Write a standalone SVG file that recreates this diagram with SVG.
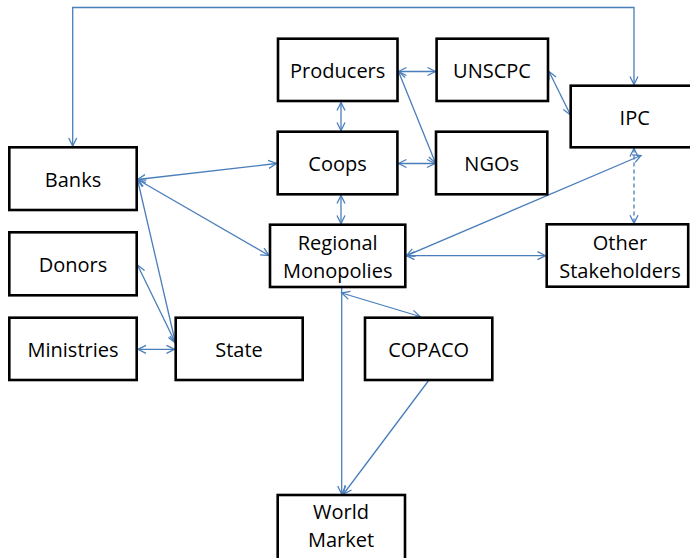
<svg xmlns="http://www.w3.org/2000/svg" width="690" height="558" viewBox="0 0 690 558">
<style>
.box{fill:#fff;stroke:#000;stroke-width:2.6}
.lbl{font-family:"Open Sans","Liberation Sans",sans-serif;font-size:20px;fill:#000;text-anchor:middle}
.ln{fill:none;stroke:#4A7EBB;stroke-width:1.3}
.both{marker-start:url(#ah);marker-end:url(#ah)}
.end{marker-end:url(#ah)}
.dash{stroke-dasharray:4 3}
</style>
<defs>
<marker id="ah" viewBox="-10 -6 12 12" refX="0" refY="0" markerWidth="12" markerHeight="12" markerUnits="userSpaceOnUse" orient="auto-start-reverse">
<path d="M-8,-4 L0,0 L-8,4" fill="none" stroke="#4A7EBB" stroke-width="1.3"/>
</marker>
</defs>
<rect width="690" height="558" fill="#fff"/>
<g id="connectors">
<path class="ln both" d="M72.7,146 V7.5 H634 V84.5"/>
<line class="ln both" x1="398.5" y1="71.5" x2="435.5" y2="71.5"/>
<line class="ln both" x1="341" y1="102.5" x2="341" y2="130.5"/>
<line class="ln both" x1="398.5" y1="71.5" x2="435.5" y2="163"/>
<line class="ln both" x1="398.5" y1="163.5" x2="435" y2="163.5"/>
<line class="ln both" x1="549" y1="71.5" x2="570.5" y2="115"/>
<line class="ln both" x1="137.5" y1="179.5" x2="276.5" y2="163.5"/>
<line class="ln both" x1="137.5" y1="179.5" x2="269" y2="255.5"/>
<line class="ln both" x1="137.5" y1="179.5" x2="175.5" y2="343"/>
<line class="ln both" x1="137.5" y1="265" x2="175.5" y2="343"/>
<line class="ln both" x1="138" y1="349.3" x2="174.5" y2="349.3"/>
<line class="ln both" x1="341" y1="195.5" x2="341" y2="223.5"/>
<line class="ln both" x1="641" y1="155.5" x2="406.5" y2="255.7"/>
<line class="ln both dash" x1="634" y1="148.5" x2="634" y2="223.3"/>
<line class="ln both" x1="406.5" y1="255.7" x2="545.5" y2="255.7"/>
<line class="ln both" x1="341.7" y1="293" x2="420" y2="316.5"/>
<line class="ln end" x1="341.7" y1="288" x2="341.7" y2="494"/>
<line class="ln end" x1="428.3" y1="381" x2="343.5" y2="494"/>
</g>
<g id="producers"><rect class="box" x="278" y="38.7" width="119.5" height="62.3"/><text class="lbl" x="337.7" y="78">Producers</text></g>
<g id="unscpc"><rect class="box" x="436.6" y="38.7" width="111.4" height="62.3"/><text class="lbl" x="492" y="78">UNSCPC</text></g>
<g id="ipc"><rect class="box" x="570.7" y="85.7" width="128" height="61.6"/><text class="lbl" x="634.7" y="125">IPC</text></g>
<g id="coops"><rect class="box" x="277.7" y="131.7" width="119.7" height="62.6"/><text class="lbl" x="337.5" y="171">Coops</text></g>
<g id="ngos"><rect class="box" x="436" y="131.7" width="111.3" height="62.6"/><text class="lbl" x="491.7" y="171">NGOs</text></g>
<g id="banks"><rect class="box" x="9.3" y="147.3" width="127.4" height="62.7"/><text class="lbl" x="73" y="186.7">Banks</text></g>
<g id="donors"><rect class="box" x="9.3" y="232.3" width="127.4" height="63"/><text class="lbl" x="73" y="271.7">Donors</text></g>
<g id="ministries"><rect class="box" x="9.3" y="317.7" width="127.4" height="62.3"/><text class="lbl" x="73" y="356.7">Ministries</text></g>
<g id="state"><rect class="box" x="175.7" y="317.7" width="127" height="62.3"/><text class="lbl" x="239" y="356.7">State</text></g>
<g id="regional"><rect class="box" x="270" y="224.7" width="135.3" height="62.3"/><text class="lbl" x="337.7" y="250">Regional</text><text class="lbl" x="337.7" y="277.7">Monopolies</text></g>
<g id="other"><rect class="box" x="546.7" y="224.3" width="141.5" height="62.4"/><text class="lbl" x="620" y="250">Other</text><text class="lbl" x="620" y="277.7">Stakeholders</text></g>
<g id="copaco"><rect class="box" x="365" y="317.7" width="127.3" height="62.3"/><text class="lbl" x="428.7" y="356.7">COPACO</text></g>
<g id="worldmarket"><rect class="box" x="277.7" y="495" width="127.3" height="70"/><text class="lbl" x="341" y="519.3">World</text><text class="lbl" x="341" y="546.7">Market</text></g>
</svg>
